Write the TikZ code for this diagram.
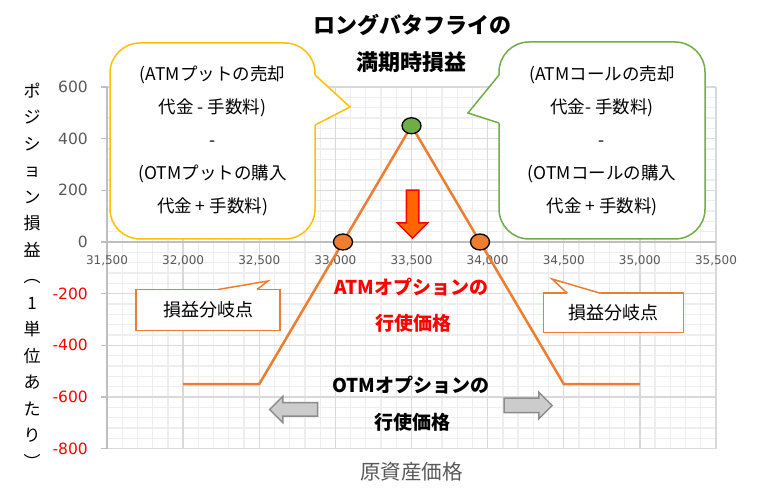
\documentclass[tikz,border=0pt]{standalone}
\usepackage{fontspec}
\setmainfont{Noto Sans CJK JP}
\newfontfamily\numfont{DejaVu Sans}
\usetikzlibrary{shapes.geometric,shapes.arrows,calc}

\definecolor{payoff}{HTML}{ED7D31}
\definecolor{putline}{HTML}{FFC000}
\definecolor{callline}{HTML}{70AD47}
\definecolor{peakfill}{HTML}{70AD47}
\definecolor{gridmajor}{HTML}{D9D9D9}
\definecolor{gridminor}{HTML}{EEEEEE}
\definecolor{axisgray}{HTML}{BFBFBF}
\definecolor{labelgray}{HTML}{595959}
\definecolor{arrowfill}{HTML}{CCCCCC}
\definecolor{arrowedge}{HTML}{8C8C8C}
\definecolor{atmfill}{HTML}{FF6600}

% pointer of a callout: colour, base 1, tip, base 2, shift into the box
\newcommand{\pointer}[5]{
    \fill[white] ($(#2)+(#5)$) -- (#2) -- (#3) -- (#4) -- ($(#4)+(#5)$) -- cycle;
    \draw[#1, line width=1.5pt, line join=miter] (#2) -- (#3) -- (#4);
}

\tikzset{
    minorgrid/.style={gridminor, line width=1.3pt},
    majorgrid/.style={gridmajor, line width=1.4pt},
    axis/.style={axisgray, line width=1.5pt},
    ylab/.style={anchor=east, xshift=-19pt, inner sep=0, font=\numfont\fontsize{15.5}{17}\selectfont},
    xlab/.style={yshift=-19pt, inner sep=0, text=labelgray, font=\numfont\fontsize{12}{14}\selectfont},
    marker/.style={ellipse, draw=black, line width=1.3pt, minimum width=19pt, minimum height=16pt, inner sep=0},
    bubble/.style={rectangle, rounded corners=30pt, fill=white, line width=1.5pt, outer sep=0, inner sep=0,
        align=center, font=\fontsize{17.5}{33}\selectfont},
    bepoint/.style={rectangle, draw=payoff, fill=white, line width=1.5pt, outer sep=0, inner sep=0,
        font=\fontsize{18}{20}\selectfont},
    optlabel/.style={inner sep=0, font=\bfseries\fontsize{19}{21}\selectfont},
    title/.style={inner sep=0, font=\bfseries\fontsize{22}{24}\selectfont},
    bigarrow/.style={single arrow, line width=1.5pt, inner xsep=0, minimum height=48pt}
}

\begin{document}
\begin{tikzpicture}[x=1pt, y=1pt]
    \path[use as bounding box, fill=white] (0,0) rectangle (776,500);

    \begin{scope}[x=15.225pt, y=0.2583pt, shift={(-4688.875pt,258pt)}]
        \foreach \p in {315,316,...,355}
            \draw[minorgrid] (\p,-800) -- (\p,600);
        \foreach \v in {-800,-760,...,600}
            \draw[minorgrid] (315,\v) -- (355,\v);
        \foreach \p in {315,320,...,355}
            \draw[majorgrid] (\p,-800) -- (\p,600);
        \foreach \v in {-800,-600,...,600}
            \draw[majorgrid] (315,\v) -- (355,\v);
        \draw[axis] (315,-800) -- (315,600);
        \draw[axis] (315,0) -- (355,0);
        \foreach \v in {-800,-600,...,600}
            \draw[axis] (315,\v) -- ++(-6pt,0);

        \foreach \v/\c [count=\i] in {600/labelgray,400/labelgray,200/labelgray,0/labelgray,
                -200/red,-400/red,-600/red,-800/red}
            \node[ylab, text=\c] (ylab\i) at (315,\v) {\v};
        \foreach \p/\t [count=\i] in {315/{31,500},320/{32,000},325/{32,500},330/{33,000},
                335/{33,500},340/{34,000},345/{34,500},350/{35,000},355/{35,500}}
            \node[xlab] (xlab\i) at (\p,0) {\t};

        \coordinate (lowL) at (320,-550);
        \coordinate (kinkL) at (325,-550);
        \coordinate (top) at (335,450);
        \coordinate (kinkR) at (345,-550);
        \coordinate (lowR) at (350,-550);
        \draw[payoff, line width=2.5pt] (lowL) -- (kinkL) -- (top) -- (kinkR) -- (lowR);
        \node[marker, fill=peakfill] (peak) at (top) {};
        \node[marker, fill=payoff] (beL) at (330.5,0) {};
        \node[marker, fill=payoff] (beR) at (339.5,0) {};
    \end{scope}

    \node[title] (title1) at (412.5,475) {ロングバタフライの};
    \node[title] (title2) at (411,437.5) {満期時損益};

    \node[align=center, inner sep=0, font=\fontsize{17}{26.5}\selectfont] (ytitle) at (32,224.5)
        {ポ\\ジ\\シ\\ョ\\ン\\損\\益\\︵\\1\\単\\位\\あ\\た\\り\\︶};
    \node[inner sep=0, text=labelgray, font=\fontsize{20.5}{22}\selectfont] (xtitle) at (411.5,28) {原資産価格};

    % put side
    \node[bubble, draw=putline, minimum width=205pt, minimum height=196pt] (putnote) at (212.5,359)
        {(ATMプットの売却\\代金\ -\ 手数料)\\-\\(OTMプットの購入\\代金\ +\ 手数料)};
    \coordinate (putb1) at ($(putnote.north east)+(0,-32pt)$);
    \coordinate (putb2) at ($(putnote.north east)+(0,-82pt)$);
    \coordinate (puttip) at (350,393);
    \pointer{putline}{putb1}{puttip}{putb2}{-2.5pt,0}

    % call side
    \node[bubble, draw=callline, minimum width=206pt, minimum height=197pt] (callnote) at (602,359.5)
        {(ATMコールの売却\\代金-\ 手数料)\\-\\(OTMコールの購入\\代金\ +\ 手数料)};
    \coordinate (callb1) at ($(callnote.north west)+(0,-33pt)$);
    \coordinate (callb2) at ($(callnote.north west)+(0,-81pt)$);
    \coordinate (calltip) at (468,387);
    \pointer{callline}{callb1}{calltip}{callb2}{2.5pt,0}

    \node[bepoint, minimum width=144pt, minimum height=41pt] (beleft) at (208,190) {損益分岐点};
    \coordinate (belb1) at ($(beleft.north west)+(82pt,0)$);
    \coordinate (belb2) at ($(beleft.north west)+(121pt,0)$);
    \coordinate (beltip) at (268,219);
    \pointer{payoff}{belb1}{beltip}{belb2}{0,-2.5pt}

    \node[bepoint, minimum width=140pt, minimum height=39.5pt] (beright) at (613.3,187) {損益分岐点};
    \coordinate (berb1) at ($(beright.north west)+(24pt,0)$);
    \coordinate (berb2) at ($(beright.north west)+(57pt,0)$);
    \coordinate (bertip) at (552,221);
    \pointer{payoff}{berb1}{bertip}{berb2}{0,-2.5pt}

    \node[bigarrow, fill=atmfill, draw=red, rotate=-90, inner ysep=5.5pt,
        single arrow head extend=9pt] (atmarrow) at (412.5,289) {};
    \node[optlabel, text=red] (atmtext) at (411.5,213) {ATMオプションの};
    \node[optlabel, text=red] (atmstrike) at (413.5,177) {行使価格};

    \node[optlabel] (otmtext) at (411,115) {OTMオプションの};
    \node[optlabel] (otmstrike) at (412.5,78) {行使価格};
    \node[bigarrow, fill=arrowfill, draw=arrowedge, rotate=180, inner ysep=6pt,
        single arrow head extend=6.5pt] (otmleft) at (297,90.5) {};
    \node[bigarrow, fill=arrowfill, draw=arrowedge, inner ysep=6.5pt,
        single arrow head extend=6pt] (otmright) at (524.5,94.5) {};
\end{tikzpicture}
\end{document}
